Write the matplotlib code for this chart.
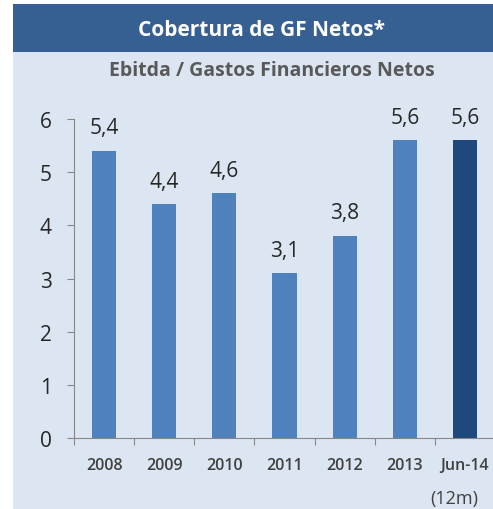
import matplotlib.pyplot as plt
from matplotlib.patches import Rectangle

categories = ['2008', '2009', '2010', '2011', '2012', '2013', 'Jun-14']
values = [5.4, 4.4, 4.6, 3.1, 3.8, 5.6, 5.6]
labels = ['5,4', '4,4', '4,6', '3,1', '3,8', '5,6', '5,6']
colors = ['#4f81bd'] * 6 + ['#1f497d']

plt.rcParams['font.family'] = ['Open Sans', 'DejaVu Sans']

W, H = 493, 510
fig = plt.figure(figsize=(W / 100, H / 100), dpi=100)
fig.patch.set_facecolor('white')

# panel background and header band
fig.patches.append(Rectangle((13 / W, 0), 1 - 13 / W, 1 - 53 / H, transform=fig.transFigure,
                             facecolor='#dce6f2', edgecolor='none', zorder=-5))
fig.patches.append(Rectangle((13 / W, 1 - 53 / H), 1 - 13 / W, 48 / H, transform=fig.transFigure,
                             facecolor='#366092', edgecolor='none', zorder=-5))
fig.text(262 / W, 1 - 30 / H, 'Cobertura de GF Netos*', color='white', fontsize=15,
         fontweight='bold', ha='center', va='center')
fig.text(272 / W, 1 - 71 / H, 'Ebitda / Gastos Financieros Netos', color='#595959',
         fontsize=14, fontweight='bold', ha='center', va='center')

# axes: y=0 at px 439, y=6 at px 120; x from 74 to ~495
ax = fig.add_axes([74 / W, 1 - 439 / H, 421 / W, (439 - 120) / H])
ax.set_facecolor('none')
x = range(len(categories))
ax.bar(x, values, width=0.4, color=colors, zorder=2)
for xi, v, lab in zip(x, values, labels):
    ax.annotate(lab, (xi, v), xytext=(0, 9), textcoords='offset points',
                ha='center', va='bottom', fontsize=15, color='#262626')

ax.set_xlim(-0.5, 6.5)
ax.set_ylim(0, 6)
ax.set_yticks(range(7))
ax.set_yticklabels([str(i) for i in range(7)], fontsize=15, color='#262626')
ax.set_xticks([i - 0.5 for i in range(7)])
ax.set_xticklabels([])
ax.set_xticks(list(x), minor=True)
ax.set_xticklabels(categories, minor=True, fontsize=11.5, fontweight='semibold', color='#404040')
ax.tick_params(axis='x', which='minor', length=0, pad=14)
ax.tick_params(axis='x', which='major', length=5, color='#868686', direction='out')
ax.tick_params(axis='y', length=5, color='#868686', pad=11)
for s in ['top', 'right']:
    ax.spines[s].set_visible(False)
ax.spines['left'].set_color('#868686')
ax.spines['bottom'].set_color('#868686')

fig.text(454 / W, 1 - 499 / H, '(12m)', fontsize=13, color='#404040', ha='center', va='center')

fig.savefig('out.png', dpi=100)
